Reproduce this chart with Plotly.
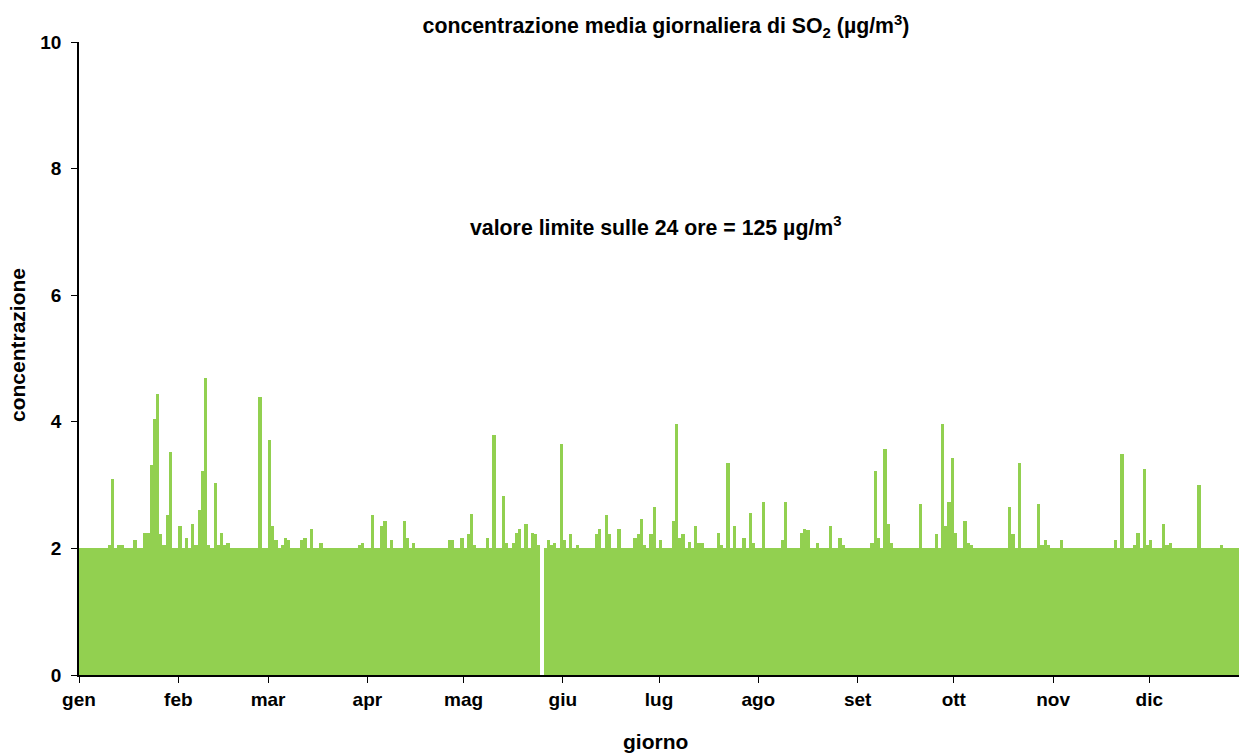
import plotly.graph_objects as go

months = ["gen", "feb", "mar", "apr", "mag", "giu", "lug", "ago", "set", "ott", "nov", "dic"]

gen = [2, 2, 2, 2, 2, 2, 2, 2, 2, 2.05, 3.09, 2, 2.05, 2.05, 2, 2, 2, 2.13, 2, 2,
       2.25, 2.25, 3.31, 4.04, 4.44, 2.23, 2.05, 2.53, 3.52, 2, 2]
feb = [2.36, 2, 2.16, 2, 2.39, 2.05, 2.61, 3.23, 4.69, 2.05, 2, 3.04, 2.05, 2.25, 2.05, 2.08,
       2, 2, 2, 2, 2, 2, 2, 2, 2, 4.39, 2, 2]
mar = [3.71, 2.36, 2.13, 2, 2.05, 2.16, 2.13, 2, 2, 2, 2.13, 2.16, 2, 2.31, 2, 2, 2.08,
       2, 2, 2, 2, 2, 2, 2, 2, 2, 2, 2, 2.05, 2.08, 2]
apr = [2, 2.53, 2, 2, 2.36, 2.44, 2, 2.13, 2, 2, 2, 2.44, 2.16, 2, 2.08,
       2, 2, 2, 2, 2, 2, 2, 2, 2, 2, 2.13, 2.13, 2, 2, 2.16]
mag = [2, 2.23, 2.55, 2.05, 2, 2, 2, 2.16, 2, 3.79, 2, 2, 2.83, 2.08, 2, 2.08, 2.25, 2.31,
       2, 2.39, 2, 2.25, 2.23, 2.05, None, 2, 2.13, 2.05, 2.08, 2, 3.65]
giu = [2.13, 2, 2.23, 2, 2.05, 2, 2, 2, 2, 2, 2.23, 2.31, 2, 2.53, 2.23, 2, 2, 2.31, 2, 2,
       2, 2, 2.16, 2.23, 2.47, 2.05, 2, 2.23, 2.65, 2]
lug = [2.13, 2, 2, 2, 2.44, 3.96, 2.16, 2.23, 2, 2.1, 2, 2.36, 2.08, 2.08, 2, 2, 2, 2,
       2.25, 2.05, 2, 3.35, 2, 2.36, 2, 2, 2.16, 2, 2.56, 2.08, 2]
ago = [2, 2.73, 2, 2, 2, 2, 2, 2.13, 2.73, 2, 2, 2, 2, 2.25, 2.31, 2.29, 2, 2, 2.08, 2, 2,
       2, 2.36, 2, 2, 2.16, 2.05, 2, 2, 2, 2]
set_ = [2, 2, 2, 2, 2.08, 3.23, 2.16, 2, 3.57, 2.39, 2.08, 2, 2, 2, 2, 2, 2, 2, 2, 2.70,
        2, 2, 2, 2, 2.23, 2, 3.96, 2.36, 2.73, 3.43]
ott = [2.25, 2, 2, 2.44, 2.08, 2.05, 2, 2, 2, 2, 2, 2, 2, 2, 2, 2, 2, 2.65, 2.23, 2, 3.35,
       2, 2, 2, 2, 2, 2.70, 2.05, 2.13, 2.05, 2]
nov = [2, 2, 2.13, 2, 2, 2, 2, 2, 2, 2, 2, 2, 2, 2, 2, 2, 2, 2, 2, 2.13, 2, 3.49, 2, 2, 2,
       2.05, 2.25, 2, 3.26, 2.05]
dic = [2.13, 2, 2, 2, 2.39, 2.05, 2.08, 2, 2, 2, 2, 2, 2, 2, 2, 3.0, 2, 2, 2, 2, 2, 2,
       2.05, 2, 2, 2, 2, 2, 2, 2, 2]

month_data = [gen, feb, mar, apr, mag, giu, lug, ago, set_, ott, nov, dic]

values = []
month_starts = []
for m in month_data:
    month_starts.append(len(values))
    values.extend(m)
days = list(range(len(values)))

GREEN = "#92D050"
FONT = "Liberation Sans, Arial, sans-serif"

fig = go.Figure()
fig.add_trace(go.Bar(x=days, y=values, marker=dict(color=GREEN, line=dict(width=0)),
                     hoverinfo="x+y"))

fig.update_layout(
    width=1239, height=753,
    margin=dict(l=79, r=0, t=42, b=78),
    paper_bgcolor="white", plot_bgcolor="white",
    bargap=0,
    showlegend=False,
    font=dict(family=FONT, color="black"),
    title=dict(text="concentrazione media giornaliera di SO<sub>2</sub> (µg/m<sup>3</sup>)",
               x=666 / 1239, y=1 - 26 / 753, xref="container", yref="container",
               xanchor="center", yanchor="middle",
               font=dict(family=FONT, size=21.3, weight="bold", color="black")),
)

fig.update_xaxes(
    range=[-0.5, 361.5],
    tickmode="array",
    tickvals=[s - 0.5 for s in month_starts],
    ticktext=months,
    ticks="outside", ticklen=6, tickcolor="black", tickwidth=1,
    showline=True, linecolor="black", linewidth=1.5,
    showgrid=False, zeroline=False,
    tickfont=dict(family=FONT, size=19, weight="bold", color="black"),
)
fig.update_yaxes(
    range=[0, 10],
    tickvals=[0, 2, 4, 6, 8, 10],
    ticks="outside", ticklen=6, tickcolor="black", tickwidth=1,
    showline=True, linecolor="black", linewidth=1.5,
    showgrid=False, zeroline=False,
    ticklabelstandoff=6,
    tickfont=dict(family=FONT, size=19, weight="bold", color="black"),
)

fig.add_annotation(text="valore limite sulle 24 ore = 125 µg/m<sup>3</sup>",
                   xref="paper", yref="paper", x=(656 - 79) / 1160, y=(675 - 226) / 633,
                   showarrow=False, xanchor="center", yanchor="middle",
                   font=dict(family=FONT, size=21.3, weight="bold", color="black"))
fig.add_annotation(text="concentrazione", textangle=-90,
                   xref="paper", yref="paper", x=0, y=(675 - 345) / 633,
                   xshift=-61, showarrow=False, xanchor="center", yanchor="middle",
                   font=dict(family=FONT, size=21, weight="bold", color="black"))
fig.add_annotation(text="giorno",
                   xref="paper", yref="paper", x=(655 - 79) / 1160, y=0,
                   yshift=-66, showarrow=False, xanchor="center", yanchor="middle",
                   font=dict(family=FONT, size=21, weight="bold", color="black"))

fig.write_html("out.html", config={"displayModeBar": False},
               post_script="document.body.style.margin='0';")
